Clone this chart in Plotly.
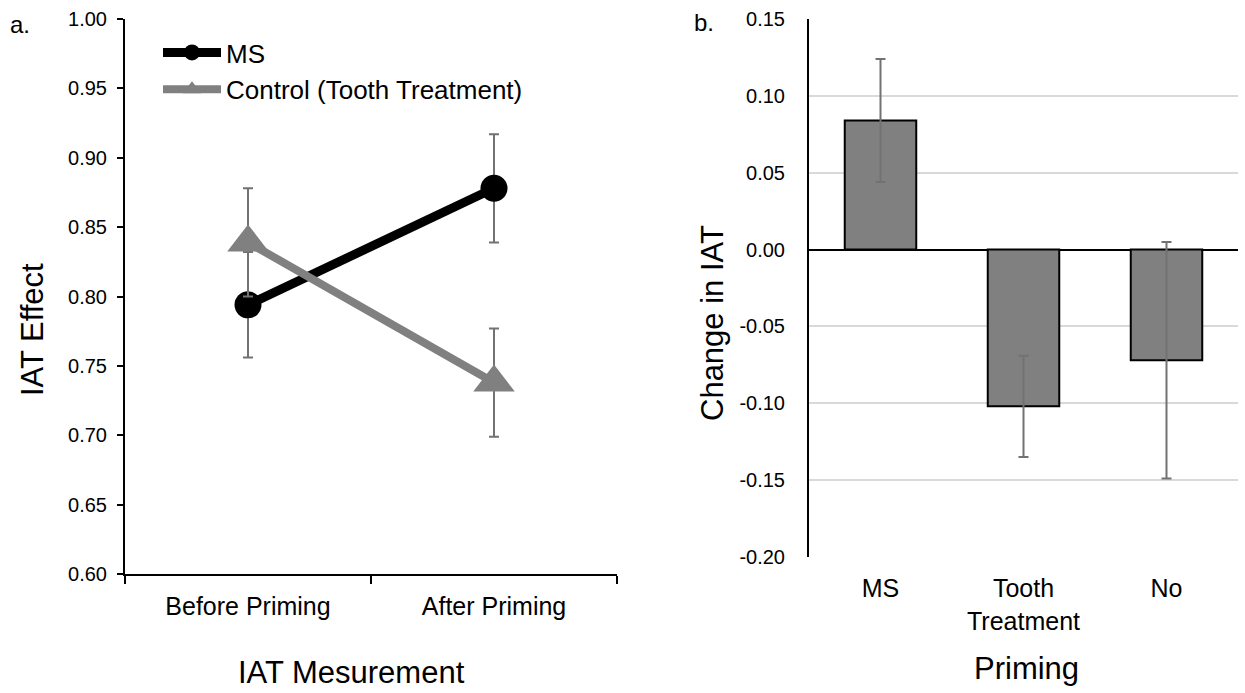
import plotly.graph_objects as go

# ---------------- data ----------------
measure_cats = ["Before Priming", "After Priming"]
ms_iat = [0.794, 0.878]
ms_err = [0.038, 0.039]
control_iat = [0.839, 0.738]
control_err = [0.039, 0.039]

priming_cats = ["MS", "Tooth Treatment", "No"]
priming_labels = ["MS", "Tooth<br>Treatment", "No"]
change_iat = [0.084, -0.102, -0.072]
change_err = [0.040, 0.033, 0.077]

left_ytick_vals = [0.60, 0.65, 0.70, 0.75, 0.80, 0.85, 0.90, 0.95, 1.00]
left_ytick_text = ["0.60", "0.65", "0.70", "0.75", "0.80", "0.85", "0.90", "0.95", "1.00"]
right_ytick_vals = [-0.20, -0.15, -0.10, -0.05, 0.00, 0.05, 0.10, 0.15]
right_ytick_text = ["-0.20", "-0.15", "-0.10", "-0.05", "0.00", "0.05", "0.10", "0.15"]

W, H = 1245, 693
FONT = "Liberation Sans, Arial, sans-serif"
GRAY = "#808080"
ERR = "#727272"


def px_x(p):
    return p / W


def px_y(p):
    return 1 - p / H


fig = go.Figure()

fig.add_trace(go.Scatter(
    x=measure_cats, y=ms_iat, name="MS", mode="lines+markers",
    line=dict(color="black", width=9),
    marker=dict(symbol="circle", size=27, color="black"),
    error_y=dict(type="data", array=ms_err, color=ERR, thickness=2, width=5),
    xaxis="x", yaxis="y",
))
fig.add_trace(go.Scatter(
    x=measure_cats, y=control_iat, name="Control (Tooth Treatment)", mode="lines+markers",
    line=dict(color=GRAY, width=8),
    marker=dict(symbol="triangle-up", size=36, color=GRAY),
    error_y=dict(type="data", array=control_err, color=ERR, thickness=2, width=5),
    xaxis="x", yaxis="y",
))
fig.add_trace(go.Bar(
    x=priming_cats, y=change_iat, showlegend=False,
    marker=dict(color=GRAY, line=dict(color="black", width=2)),
    error_y=dict(type="data", array=change_err, color=ERR, thickness=2, width=5),
    xaxis="x2", yaxis="y2",
))

left_dom_x = [px_x(125), px_x(617)]
left_dom_y = [px_y(574), px_y(19)]
right_dom_x = [px_x(809), px_x(1238)]
right_dom_y = [px_y(557), px_y(19)]

fig.update_layout(
    width=W, height=H,
    margin=dict(l=0, r=0, t=0, b=0, autoexpand=False),
    paper_bgcolor="white", plot_bgcolor="white",
    font=dict(family=FONT, color="black", size=20),
    bargap=0.5,
    showlegend=True,
    legend=dict(x=px_x(158), y=px_y(29), xanchor="left", yanchor="top",
                bgcolor="rgba(0,0,0,0)", font=dict(size=26), itemwidth=58,
                tracegroupgap=0),
    xaxis=dict(domain=left_dom_x, anchor="y", type="category",
               categoryorder="array", categoryarray=measure_cats,
               range=[-0.5, 1.5], showline=True, linecolor="black", linewidth=2,
               ticks="outside", tickson="boundaries", ticklen=8, tickwidth=2,
               tickcolor="black", showgrid=False, zeroline=False,
               tickfont=dict(size=25), ticklabelstandoff=9, automargin=False),
    xaxis3=dict(domain=left_dom_x, anchor="y", overlaying="x", range=[-0.5, 1.5],
                tickvals=[-0.5, 0.5, 1.5], ticks="inside", ticklen=8, tickwidth=2,
                tickcolor="black", showticklabels=False, showline=False,
                showgrid=False, zeroline=False, automargin=False),
    yaxis=dict(domain=left_dom_y, anchor="x", range=[0.60, 1.00],
               tickvals=left_ytick_vals, ticktext=left_ytick_text,
               showline=True, linecolor="black", linewidth=2,
               ticks="outside", ticklen=6, tickwidth=2, tickcolor="black",
               showgrid=False, zeroline=False, tickfont=dict(size=20),
               ticklabelstandoff=6, automargin=False),
    xaxis2=dict(domain=right_dom_x, anchor="y2", type="category",
                categoryorder="array", categoryarray=priming_cats,
                tickvals=priming_cats, ticktext=priming_labels,
                range=[-0.5, 2.5], showline=False, ticks="", showgrid=False,
                zeroline=False, tickfont=dict(size=25), ticklabelstandoff=14,
                automargin=False),
    yaxis2=dict(domain=right_dom_y, anchor="x2", range=[-0.20, 0.15],
                tickvals=right_ytick_vals, ticktext=right_ytick_text,
                showline=True, linecolor="black", linewidth=2, ticks="",
                showgrid=True, gridcolor="#d9d9d9", gridwidth=1.5,
                zeroline=True, zerolinecolor="black", zerolinewidth=2,
                tickfont=dict(size=20), ticklabelstandoff=18, automargin=False),
    annotations=[
        dict(text="a.", x=px_x(8), y=px_y(24), xref="paper", yref="paper",
             xanchor="left", yanchor="middle", showarrow=False, font=dict(size=24)),
        dict(text="b.", x=px_x(692), y=px_y(22), xref="paper", yref="paper",
             xanchor="left", yanchor="middle", showarrow=False, font=dict(size=24)),
        dict(text="IAT Mesurement", x=px_x(351), y=px_y(672), xref="paper", yref="paper",
             xanchor="center", yanchor="middle", showarrow=False, font=dict(size=31)),
        dict(text="Priming", x=px_x(1026), y=px_y(668), xref="paper", yref="paper",
             xanchor="center", yanchor="middle", showarrow=False, font=dict(size=31)),
        dict(text="IAT Effect", x=px_x(32), y=px_y(330), xref="paper", yref="paper",
             xanchor="center", yanchor="middle", textangle=-90, showarrow=False,
             font=dict(size=31)),
        dict(text="Change in IAT", x=px_x(712), y=px_y(323), xref="paper", yref="paper",
             xanchor="center", yanchor="middle", textangle=-90, showarrow=False,
             font=dict(size=31)),
    ],
)

fig.write_html("out.html", config={"displayModeBar": False},
               post_script="document.body.style.margin='0';")
